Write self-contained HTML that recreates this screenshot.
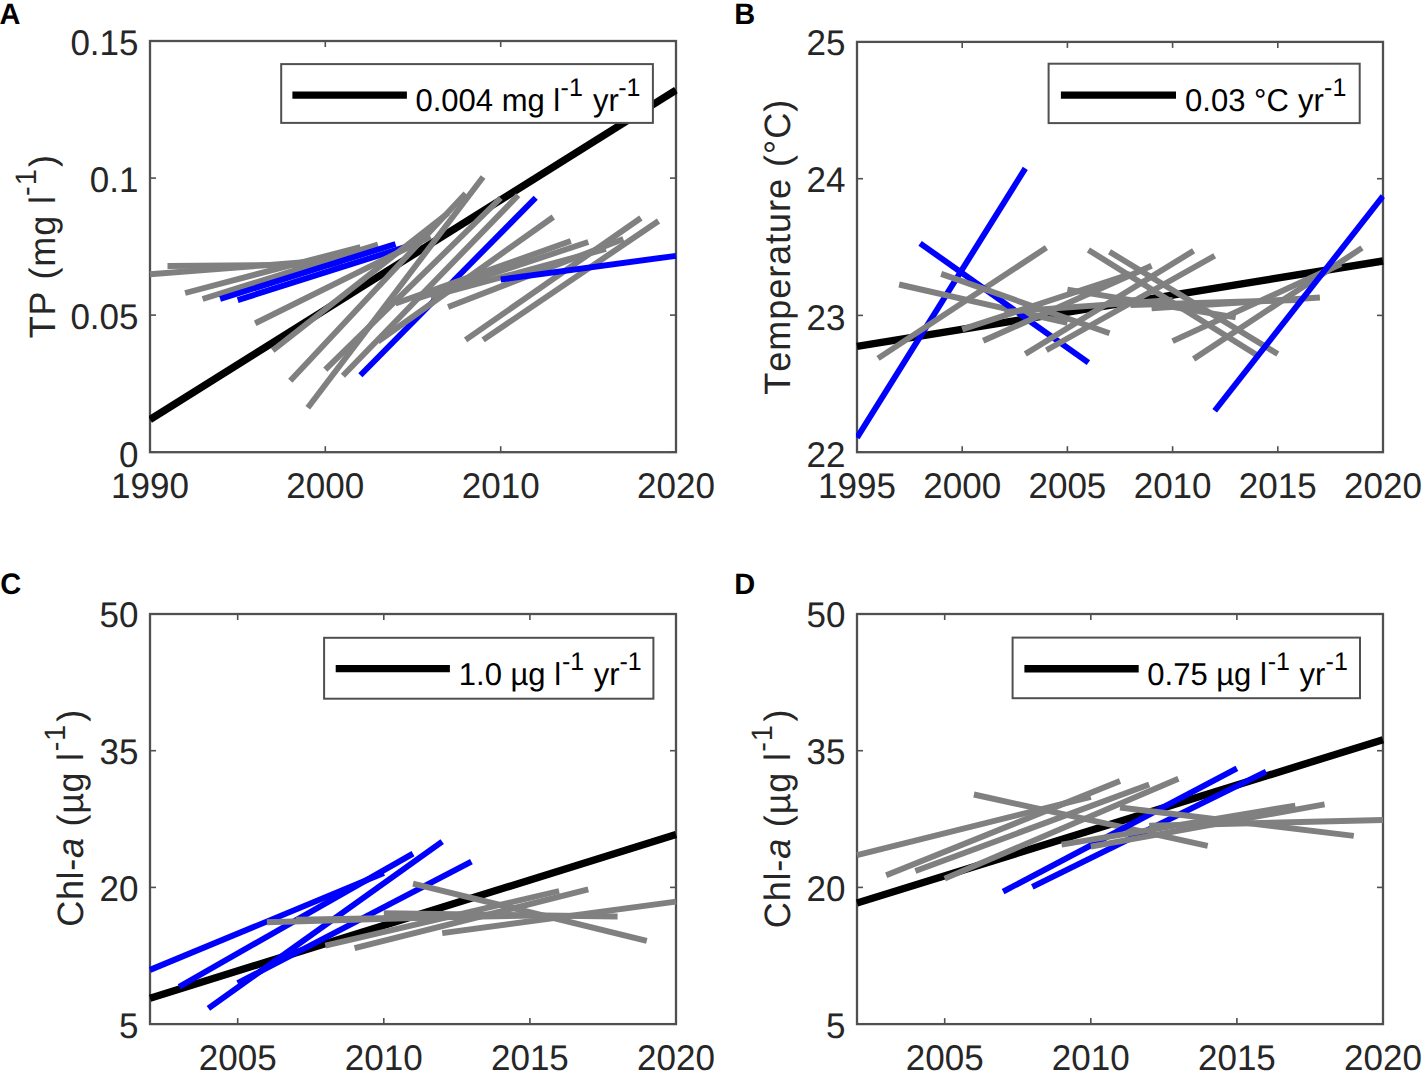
<!DOCTYPE html>
<html><head><meta charset="utf-8"><style>
html,body{margin:0;padding:0;background:#fff;overflow:hidden;}
svg{display:block;}
text{font-family:"Liberation Sans",sans-serif;fill:#262626;font-kerning:none;}
.tk{font-size:35px;}
.lg{font-size:31px;fill:#000;}
.yl{font-size:36px;}
.pl{font-size:29px;font-weight:bold;fill:#000;}
</style></head><body>
<svg width="1426" height="1077" viewBox="0 0 1426 1077" text-rendering="geometricPrecision">
<rect width="1426" height="1077" fill="#fff"/>
<rect x="150" y="41" width="526" height="411.2" fill="none" stroke="#505050" stroke-width="2.3"/>
<line x1="150.0" y1="452.2" x2="150.0" y2="446.2" stroke="#505050" stroke-width="1.6"/>
<line x1="150.0" y1="41.0" x2="150.0" y2="47.0" stroke="#505050" stroke-width="1.6"/>
<text transform="translate(150.0,498.3) scale(1,1.02)" class="tk" text-anchor="middle">1990</text>
<line x1="325.3" y1="452.2" x2="325.3" y2="446.2" stroke="#505050" stroke-width="1.6"/>
<line x1="325.3" y1="41.0" x2="325.3" y2="47.0" stroke="#505050" stroke-width="1.6"/>
<text transform="translate(325.3,498.3) scale(1,1.02)" class="tk" text-anchor="middle">2000</text>
<line x1="500.7" y1="452.2" x2="500.7" y2="446.2" stroke="#505050" stroke-width="1.6"/>
<line x1="500.7" y1="41.0" x2="500.7" y2="47.0" stroke="#505050" stroke-width="1.6"/>
<text transform="translate(500.7,498.3) scale(1,1.02)" class="tk" text-anchor="middle">2010</text>
<line x1="676.0" y1="452.2" x2="676.0" y2="446.2" stroke="#505050" stroke-width="1.6"/>
<line x1="676.0" y1="41.0" x2="676.0" y2="47.0" stroke="#505050" stroke-width="1.6"/>
<text transform="translate(676.0,498.3) scale(1,1.02)" class="tk" text-anchor="middle">2020</text>
<line x1="150.0" y1="452.2" x2="156.0" y2="452.2" stroke="#505050" stroke-width="1.6"/>
<line x1="676.0" y1="452.2" x2="670.0" y2="452.2" stroke="#505050" stroke-width="1.6"/>
<text transform="translate(138.5,466.5) scale(1,1.02)" class="tk" text-anchor="end">0</text>
<line x1="150.0" y1="315.1" x2="156.0" y2="315.1" stroke="#505050" stroke-width="1.6"/>
<line x1="676.0" y1="315.1" x2="670.0" y2="315.1" stroke="#505050" stroke-width="1.6"/>
<text transform="translate(138.5,329.2) scale(1,1.02)" class="tk" text-anchor="end">0.05</text>
<line x1="150.0" y1="178.1" x2="156.0" y2="178.1" stroke="#505050" stroke-width="1.6"/>
<line x1="676.0" y1="178.1" x2="670.0" y2="178.1" stroke="#505050" stroke-width="1.6"/>
<text transform="translate(138.5,191.8) scale(1,1.02)" class="tk" text-anchor="end">0.1</text>
<line x1="150.0" y1="41.0" x2="156.0" y2="41.0" stroke="#505050" stroke-width="1.6"/>
<line x1="676.0" y1="41.0" x2="670.0" y2="41.0" stroke="#505050" stroke-width="1.6"/>
<text transform="translate(138.5,54.5) scale(1,1.02)" class="tk" text-anchor="end">0.15</text>
<clipPath id="clipA"><rect x="149" y="40" width="528.5" height="413.7"/></clipPath>
<g clip-path="url(#clipA)">
<line x1="150.0" y1="419.6" x2="676.0" y2="90.1" stroke="#000000" stroke-width="7.4"/>
<line x1="150.0" y1="274.3" x2="325.3" y2="260.5" stroke="#808080" stroke-width="5.9"/>
<line x1="167.5" y1="266.0" x2="342.9" y2="264.5" stroke="#808080" stroke-width="5.9"/>
<line x1="185.1" y1="293.0" x2="360.4" y2="247.0" stroke="#808080" stroke-width="5.9"/>
<line x1="202.6" y1="299.0" x2="377.9" y2="244.5" stroke="#808080" stroke-width="5.9"/>
<line x1="220.1" y1="299.0" x2="395.5" y2="244.0" stroke="#0000ff" stroke-width="5.9"/>
<line x1="237.7" y1="300.1" x2="413.0" y2="244.6" stroke="#0000ff" stroke-width="5.9"/>
<line x1="255.2" y1="323.3" x2="430.5" y2="236.5" stroke="#808080" stroke-width="5.9"/>
<line x1="272.7" y1="350.5" x2="448.1" y2="213.0" stroke="#808080" stroke-width="5.9"/>
<line x1="290.3" y1="380.8" x2="465.6" y2="193.4" stroke="#808080" stroke-width="5.9"/>
<line x1="307.8" y1="407.7" x2="483.1" y2="177.0" stroke="#808080" stroke-width="5.9"/>
<line x1="325.3" y1="369.6" x2="500.7" y2="198.0" stroke="#808080" stroke-width="5.9"/>
<line x1="342.9" y1="375.7" x2="518.2" y2="195.2" stroke="#808080" stroke-width="5.9"/>
<line x1="360.4" y1="375.2" x2="535.7" y2="197.7" stroke="#0000ff" stroke-width="5.9"/>
<line x1="377.9" y1="341.5" x2="553.3" y2="217.0" stroke="#808080" stroke-width="5.9"/>
<line x1="395.5" y1="303.5" x2="570.8" y2="241.0" stroke="#808080" stroke-width="5.9"/>
<line x1="413.0" y1="300.0" x2="588.3" y2="242.0" stroke="#808080" stroke-width="5.9"/>
<line x1="430.5" y1="296.4" x2="605.9" y2="249.0" stroke="#808080" stroke-width="5.9"/>
<line x1="448.1" y1="307.0" x2="623.4" y2="239.0" stroke="#808080" stroke-width="5.9"/>
<line x1="465.6" y1="339.9" x2="640.9" y2="218.0" stroke="#808080" stroke-width="5.9"/>
<line x1="483.1" y1="339.9" x2="658.5" y2="221.0" stroke="#808080" stroke-width="5.9"/>
<line x1="500.7" y1="279.5" x2="676.0" y2="255.8" stroke="#0000ff" stroke-width="5.9"/>
</g>
<rect x="281.2" y="64.1" width="371.7" height="58.80000000000001" fill="#fff" stroke="#505050" stroke-width="2"/>
<line x1="292.4" y1="95.1" x2="406.9" y2="95.1" stroke="#000000" stroke-width="7.4"/>
<text transform="translate(0,111.2) scale(1,1.02)" class="lg"><tspan x="415.5" y="0">0.004 mg l</tspan><tspan x="560.6" y="-14.51" font-size="25">-1</tspan><tspan x="593.1" y="0">yr</tspan><tspan x="618.3" y="-14.51" font-size="25">-1</tspan></text>
<text transform="translate(54.6,338.3) rotate(-90) scale(1,1.02)" class="yl" letter-spacing="0.9"><tspan x="0" y="0">TP (mg l</tspan><tspan x="142.4" y="-18.04" font-size="29">-1</tspan><tspan x="171.4" y="0">)</tspan></text>
<rect x="857" y="41.9" width="526" height="410.3" fill="none" stroke="#505050" stroke-width="2.3"/>
<line x1="857.0" y1="452.2" x2="857.0" y2="446.2" stroke="#505050" stroke-width="1.6"/>
<line x1="857.0" y1="41.9" x2="857.0" y2="47.9" stroke="#505050" stroke-width="1.6"/>
<text transform="translate(857.0,498.3) scale(1,1.02)" class="tk" text-anchor="middle">1995</text>
<line x1="962.2" y1="452.2" x2="962.2" y2="446.2" stroke="#505050" stroke-width="1.6"/>
<line x1="962.2" y1="41.9" x2="962.2" y2="47.9" stroke="#505050" stroke-width="1.6"/>
<text transform="translate(962.2,498.3) scale(1,1.02)" class="tk" text-anchor="middle">2000</text>
<line x1="1067.4" y1="452.2" x2="1067.4" y2="446.2" stroke="#505050" stroke-width="1.6"/>
<line x1="1067.4" y1="41.9" x2="1067.4" y2="47.9" stroke="#505050" stroke-width="1.6"/>
<text transform="translate(1067.4,498.3) scale(1,1.02)" class="tk" text-anchor="middle">2005</text>
<line x1="1172.6" y1="452.2" x2="1172.6" y2="446.2" stroke="#505050" stroke-width="1.6"/>
<line x1="1172.6" y1="41.9" x2="1172.6" y2="47.9" stroke="#505050" stroke-width="1.6"/>
<text transform="translate(1172.6,498.3) scale(1,1.02)" class="tk" text-anchor="middle">2010</text>
<line x1="1277.8" y1="452.2" x2="1277.8" y2="446.2" stroke="#505050" stroke-width="1.6"/>
<line x1="1277.8" y1="41.9" x2="1277.8" y2="47.9" stroke="#505050" stroke-width="1.6"/>
<text transform="translate(1277.8,498.3) scale(1,1.02)" class="tk" text-anchor="middle">2015</text>
<line x1="1383.0" y1="452.2" x2="1383.0" y2="446.2" stroke="#505050" stroke-width="1.6"/>
<line x1="1383.0" y1="41.9" x2="1383.0" y2="47.9" stroke="#505050" stroke-width="1.6"/>
<text transform="translate(1383.0,498.3) scale(1,1.02)" class="tk" text-anchor="middle">2020</text>
<line x1="857.0" y1="452.2" x2="863.0" y2="452.2" stroke="#505050" stroke-width="1.6"/>
<line x1="1383.0" y1="452.2" x2="1377.0" y2="452.2" stroke="#505050" stroke-width="1.6"/>
<text transform="translate(845.5,466.8) scale(1,1.02)" class="tk" text-anchor="end">22</text>
<line x1="857.0" y1="315.4" x2="863.0" y2="315.4" stroke="#505050" stroke-width="1.6"/>
<line x1="1383.0" y1="315.4" x2="1377.0" y2="315.4" stroke="#505050" stroke-width="1.6"/>
<text transform="translate(845.5,329.5) scale(1,1.02)" class="tk" text-anchor="end">23</text>
<line x1="857.0" y1="178.7" x2="863.0" y2="178.7" stroke="#505050" stroke-width="1.6"/>
<line x1="1383.0" y1="178.7" x2="1377.0" y2="178.7" stroke="#505050" stroke-width="1.6"/>
<text transform="translate(845.5,192.3) scale(1,1.02)" class="tk" text-anchor="end">24</text>
<line x1="857.0" y1="41.9" x2="863.0" y2="41.9" stroke="#505050" stroke-width="1.6"/>
<line x1="1383.0" y1="41.9" x2="1377.0" y2="41.9" stroke="#505050" stroke-width="1.6"/>
<text transform="translate(845.5,55.0) scale(1,1.02)" class="tk" text-anchor="end">25</text>
<clipPath id="clipB"><rect x="856" y="40.9" width="528.5" height="412.8"/></clipPath>
<g clip-path="url(#clipB)">
<line x1="857.0" y1="346.4" x2="1383.0" y2="261.0" stroke="#000000" stroke-width="7.4"/>
<line x1="857.0" y1="437.7" x2="1025.3" y2="168.4" stroke="#0000ff" stroke-width="5.9"/>
<line x1="878.0" y1="358.4" x2="1046.4" y2="247.6" stroke="#808080" stroke-width="5.9"/>
<line x1="899.1" y1="284.5" x2="1067.4" y2="322.8" stroke="#808080" stroke-width="5.9"/>
<line x1="920.1" y1="243.3" x2="1088.4" y2="362.6" stroke="#0000ff" stroke-width="5.9"/>
<line x1="941.2" y1="273.9" x2="1109.5" y2="333.2" stroke="#808080" stroke-width="5.9"/>
<line x1="962.2" y1="329.4" x2="1130.5" y2="274.0" stroke="#808080" stroke-width="5.9"/>
<line x1="983.2" y1="340.8" x2="1151.6" y2="265.7" stroke="#808080" stroke-width="5.9"/>
<line x1="1004.3" y1="312.0" x2="1172.6" y2="300.0" stroke="#808080" stroke-width="5.9"/>
<line x1="1025.3" y1="354.0" x2="1193.6" y2="250.8" stroke="#808080" stroke-width="5.9"/>
<line x1="1046.4" y1="350.2" x2="1214.7" y2="255.8" stroke="#808080" stroke-width="5.9"/>
<line x1="1067.4" y1="289.6" x2="1235.7" y2="317.3" stroke="#808080" stroke-width="5.9"/>
<line x1="1088.4" y1="249.9" x2="1256.8" y2="355.0" stroke="#808080" stroke-width="5.9"/>
<line x1="1109.5" y1="251.8" x2="1277.8" y2="354.0" stroke="#808080" stroke-width="5.9"/>
<line x1="1130.5" y1="305.0" x2="1298.8" y2="300.0" stroke="#808080" stroke-width="5.9"/>
<line x1="1151.6" y1="308.4" x2="1319.9" y2="297.5" stroke="#808080" stroke-width="5.9"/>
<line x1="1172.6" y1="341.1" x2="1340.9" y2="264.0" stroke="#808080" stroke-width="5.9"/>
<line x1="1193.6" y1="359.0" x2="1362.0" y2="247.9" stroke="#808080" stroke-width="5.9"/>
<line x1="1214.7" y1="410.8" x2="1383.0" y2="196.1" stroke="#0000ff" stroke-width="5.9"/>
</g>
<rect x="1048.6" y="63.7" width="311.10000000000014" height="59.39999999999999" fill="#fff" stroke="#505050" stroke-width="2"/>
<line x1="1060.9" y1="95.1" x2="1176.0" y2="95.1" stroke="#000000" stroke-width="7.4"/>
<text transform="translate(0,111.1) scale(1,1.02)" class="lg"><tspan x="1185.1" y="0">0.03 °C</tspan><tspan x="1298.0" y="0">yr</tspan><tspan x="1324.1" y="-14.51" font-size="25">-1</tspan></text>
<text transform="translate(790,394.7) rotate(-90) scale(1,1.02)" class="yl" letter-spacing="0.96"><tspan x="0" y="0">Temperature (°C)</tspan></text>
<rect x="150" y="614" width="526" height="410.0999999999999" fill="none" stroke="#505050" stroke-width="2.3"/>
<line x1="237.7" y1="1024.1" x2="237.7" y2="1018.1" stroke="#505050" stroke-width="1.6"/>
<line x1="237.7" y1="614.0" x2="237.7" y2="620.0" stroke="#505050" stroke-width="1.6"/>
<text transform="translate(237.7,1070.2) scale(1,1.02)" class="tk" text-anchor="middle">2005</text>
<line x1="383.8" y1="1024.1" x2="383.8" y2="1018.1" stroke="#505050" stroke-width="1.6"/>
<line x1="383.8" y1="614.0" x2="383.8" y2="620.0" stroke="#505050" stroke-width="1.6"/>
<text transform="translate(383.8,1070.2) scale(1,1.02)" class="tk" text-anchor="middle">2010</text>
<line x1="529.9" y1="1024.1" x2="529.9" y2="1018.1" stroke="#505050" stroke-width="1.6"/>
<line x1="529.9" y1="614.0" x2="529.9" y2="620.0" stroke="#505050" stroke-width="1.6"/>
<text transform="translate(529.9,1070.2) scale(1,1.02)" class="tk" text-anchor="middle">2015</text>
<line x1="676.0" y1="1024.1" x2="676.0" y2="1018.1" stroke="#505050" stroke-width="1.6"/>
<line x1="676.0" y1="614.0" x2="676.0" y2="620.0" stroke="#505050" stroke-width="1.6"/>
<text transform="translate(676.0,1070.2) scale(1,1.02)" class="tk" text-anchor="middle">2020</text>
<line x1="150.0" y1="1024.1" x2="156.0" y2="1024.1" stroke="#505050" stroke-width="1.6"/>
<line x1="676.0" y1="1024.1" x2="670.0" y2="1024.1" stroke="#505050" stroke-width="1.6"/>
<text transform="translate(138.5,1038.4) scale(1,1.02)" class="tk" text-anchor="end">5</text>
<line x1="150.0" y1="887.4" x2="156.0" y2="887.4" stroke="#505050" stroke-width="1.6"/>
<line x1="676.0" y1="887.4" x2="670.0" y2="887.4" stroke="#505050" stroke-width="1.6"/>
<text transform="translate(138.5,901.1) scale(1,1.02)" class="tk" text-anchor="end">20</text>
<line x1="150.0" y1="750.7" x2="156.0" y2="750.7" stroke="#505050" stroke-width="1.6"/>
<line x1="676.0" y1="750.7" x2="670.0" y2="750.7" stroke="#505050" stroke-width="1.6"/>
<text transform="translate(138.5,763.9) scale(1,1.02)" class="tk" text-anchor="end">35</text>
<line x1="150.0" y1="614.0" x2="156.0" y2="614.0" stroke="#505050" stroke-width="1.6"/>
<line x1="676.0" y1="614.0" x2="670.0" y2="614.0" stroke="#505050" stroke-width="1.6"/>
<text transform="translate(138.5,626.6) scale(1,1.02)" class="tk" text-anchor="end">50</text>
<clipPath id="clipC"><rect x="149" y="613" width="528.5" height="412.5999999999999"/></clipPath>
<g clip-path="url(#clipC)">
<line x1="150.0" y1="998.2" x2="676.0" y2="834.5" stroke="#000000" stroke-width="7.4"/>
<line x1="150.0" y1="969.9" x2="383.8" y2="873.1" stroke="#0000ff" stroke-width="5.9"/>
<line x1="179.2" y1="986.7" x2="413.0" y2="853.6" stroke="#0000ff" stroke-width="5.9"/>
<line x1="208.4" y1="1008.4" x2="442.2" y2="841.6" stroke="#0000ff" stroke-width="5.9"/>
<line x1="237.7" y1="983.2" x2="471.4" y2="861.6" stroke="#0000ff" stroke-width="5.9"/>
<line x1="266.9" y1="922.2" x2="500.7" y2="915.5" stroke="#808080" stroke-width="5.9"/>
<line x1="296.1" y1="919.8" x2="529.9" y2="915.6" stroke="#808080" stroke-width="5.9"/>
<line x1="325.3" y1="945.7" x2="559.1" y2="891.0" stroke="#808080" stroke-width="5.9"/>
<line x1="354.6" y1="948.2" x2="588.3" y2="889.4" stroke="#808080" stroke-width="5.9"/>
<line x1="383.8" y1="913.3" x2="617.6" y2="916.5" stroke="#808080" stroke-width="5.9"/>
<line x1="413.0" y1="883.6" x2="646.8" y2="940.9" stroke="#808080" stroke-width="5.9"/>
<line x1="442.2" y1="933.2" x2="676.0" y2="901.6" stroke="#808080" stroke-width="5.9"/>
</g>
<rect x="324.1" y="637.8" width="329.29999999999995" height="60.90000000000009" fill="#fff" stroke="#505050" stroke-width="2"/>
<line x1="335.7" y1="668.6" x2="449.9" y2="668.6" stroke="#000000" stroke-width="7.4"/>
<text transform="translate(0,685.0) scale(1,1.02)" class="lg"><tspan x="458.8" y="0">1.0 µg l</tspan><tspan x="561.9" y="-14.51" font-size="25">-1</tspan><tspan x="593.7" y="0">yr</tspan><tspan x="619.4" y="-14.51" font-size="25">-1</tspan></text>
<text transform="translate(83,926.8) rotate(-90) scale(1,1.02)" class="yl" letter-spacing="0.7"><tspan x="0" y="0">Chl-<tspan font-style="italic">a</tspan> (µg l</tspan><tspan x="175.5" y="-18.04" font-size="29">-1</tspan><tspan x="205" y="0">)</tspan></text>
<rect x="857" y="614" width="526" height="410.0999999999999" fill="none" stroke="#505050" stroke-width="2.3"/>
<line x1="944.7" y1="1024.1" x2="944.7" y2="1018.1" stroke="#505050" stroke-width="1.6"/>
<line x1="944.7" y1="614.0" x2="944.7" y2="620.0" stroke="#505050" stroke-width="1.6"/>
<text transform="translate(944.7,1070.2) scale(1,1.02)" class="tk" text-anchor="middle">2005</text>
<line x1="1090.8" y1="1024.1" x2="1090.8" y2="1018.1" stroke="#505050" stroke-width="1.6"/>
<line x1="1090.8" y1="614.0" x2="1090.8" y2="620.0" stroke="#505050" stroke-width="1.6"/>
<text transform="translate(1090.8,1070.2) scale(1,1.02)" class="tk" text-anchor="middle">2010</text>
<line x1="1236.9" y1="1024.1" x2="1236.9" y2="1018.1" stroke="#505050" stroke-width="1.6"/>
<line x1="1236.9" y1="614.0" x2="1236.9" y2="620.0" stroke="#505050" stroke-width="1.6"/>
<text transform="translate(1236.9,1070.2) scale(1,1.02)" class="tk" text-anchor="middle">2015</text>
<line x1="1383.0" y1="1024.1" x2="1383.0" y2="1018.1" stroke="#505050" stroke-width="1.6"/>
<line x1="1383.0" y1="614.0" x2="1383.0" y2="620.0" stroke="#505050" stroke-width="1.6"/>
<text transform="translate(1383.0,1070.2) scale(1,1.02)" class="tk" text-anchor="middle">2020</text>
<line x1="857.0" y1="1024.1" x2="863.0" y2="1024.1" stroke="#505050" stroke-width="1.6"/>
<line x1="1383.0" y1="1024.1" x2="1377.0" y2="1024.1" stroke="#505050" stroke-width="1.6"/>
<text transform="translate(845.5,1038.4) scale(1,1.02)" class="tk" text-anchor="end">5</text>
<line x1="857.0" y1="887.4" x2="863.0" y2="887.4" stroke="#505050" stroke-width="1.6"/>
<line x1="1383.0" y1="887.4" x2="1377.0" y2="887.4" stroke="#505050" stroke-width="1.6"/>
<text transform="translate(845.5,901.1) scale(1,1.02)" class="tk" text-anchor="end">20</text>
<line x1="857.0" y1="750.7" x2="863.0" y2="750.7" stroke="#505050" stroke-width="1.6"/>
<line x1="1383.0" y1="750.7" x2="1377.0" y2="750.7" stroke="#505050" stroke-width="1.6"/>
<text transform="translate(845.5,763.9) scale(1,1.02)" class="tk" text-anchor="end">35</text>
<line x1="857.0" y1="614.0" x2="863.0" y2="614.0" stroke="#505050" stroke-width="1.6"/>
<line x1="1383.0" y1="614.0" x2="1377.0" y2="614.0" stroke="#505050" stroke-width="1.6"/>
<text transform="translate(845.5,626.6) scale(1,1.02)" class="tk" text-anchor="end">50</text>
<clipPath id="clipD"><rect x="856" y="613" width="528.5" height="412.5999999999999"/></clipPath>
<g clip-path="url(#clipD)">
<line x1="857.0" y1="903.0" x2="1383.0" y2="739.7" stroke="#000000" stroke-width="7.4"/>
<line x1="857.0" y1="855.2" x2="1090.8" y2="796.8" stroke="#808080" stroke-width="5.9"/>
<line x1="886.2" y1="875.3" x2="1120.0" y2="781.1" stroke="#808080" stroke-width="5.9"/>
<line x1="915.4" y1="870.9" x2="1149.2" y2="784.6" stroke="#808080" stroke-width="5.9"/>
<line x1="944.7" y1="878.6" x2="1178.4" y2="778.8" stroke="#808080" stroke-width="5.9"/>
<line x1="973.9" y1="794.5" x2="1207.7" y2="845.8" stroke="#808080" stroke-width="5.9"/>
<line x1="1003.1" y1="891.6" x2="1236.9" y2="768.3" stroke="#0000ff" stroke-width="5.9"/>
<line x1="1032.3" y1="886.8" x2="1266.1" y2="771.7" stroke="#0000ff" stroke-width="5.9"/>
<line x1="1061.6" y1="844.7" x2="1295.3" y2="805.6" stroke="#808080" stroke-width="5.9"/>
<line x1="1090.8" y1="846.6" x2="1324.6" y2="804.3" stroke="#808080" stroke-width="5.9"/>
<line x1="1120.0" y1="807.5" x2="1353.8" y2="835.9" stroke="#808080" stroke-width="5.9"/>
<line x1="1149.2" y1="825.7" x2="1383.0" y2="820.0" stroke="#808080" stroke-width="5.9"/>
</g>
<rect x="1012.6" y="637.6" width="347.4" height="60.60000000000002" fill="#fff" stroke="#505050" stroke-width="2"/>
<line x1="1024.4" y1="668.7" x2="1138.7" y2="668.7" stroke="#000000" stroke-width="7.4"/>
<text transform="translate(0,684.8) scale(1,1.02)" class="lg"><tspan x="1147.3" y="0">0.75 µg l</tspan><tspan x="1267.8" y="-14.51" font-size="25">-1</tspan><tspan x="1299.6" y="0">yr</tspan><tspan x="1325.6" y="-14.51" font-size="25">-1</tspan></text>
<text transform="translate(790,928.2) rotate(-90) scale(1,1.02)" class="yl" letter-spacing="0.83"><tspan x="0" y="0">Chl-<tspan font-style="italic">a</tspan> (µg l</tspan><tspan x="176.5" y="-18.04" font-size="29">-1</tspan><tspan x="206.6" y="0">)</tspan></text>
<text transform="translate(-0.6,24.1) scale(1,1.02)" class="pl">A</text>
<text transform="translate(734.2,24.1) scale(1,1.02)" class="pl">B</text>
<text transform="translate(0.2,594.0) scale(1,1.02)" class="pl">C</text>
<text transform="translate(734.2,594.0) scale(1,1.02)" class="pl">D</text>
</svg></body></html>
